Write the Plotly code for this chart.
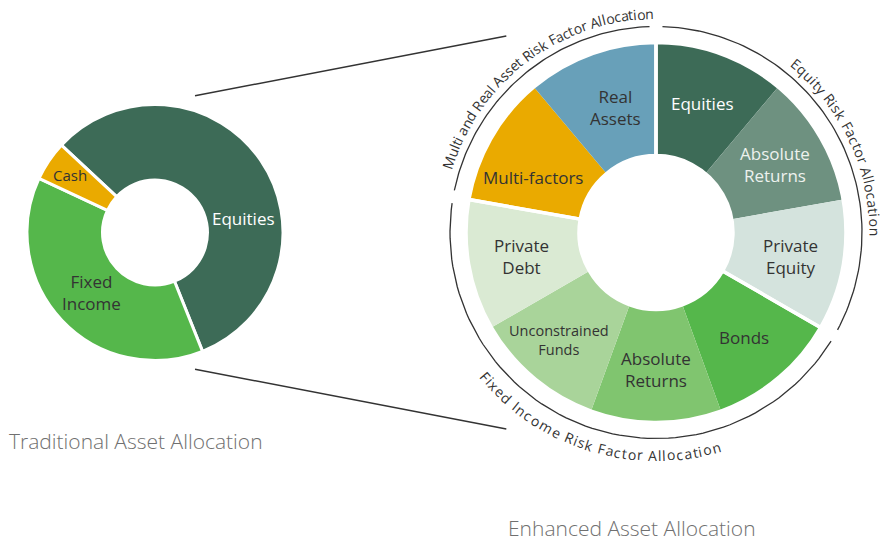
import math
import plotly.graph_objects as go

W, H = 893, 541
FONT = "Open Sans"

# ---------------- data ----------------
LEFT_LABELS = ["Equities", "Fixed Income", "Cash"]
LEFT_VALUES = [57, 38, 5]
LEFT_COLORS = ["#3d6b57", "#55b74b", "#eaaa00"]
LEFT_TEXT = ["Equities", "Fixed<br>Income", "Cash"]

RIGHT_GROUPS = ["Equity Risk Factor Allocation",
                "Fixed Income Risk Factor Allocation",
                "Multi and Real Asset Risk Factor Allocation"]
RIGHT_LABELS = ["Equities", "Absolute Returns", "Private Equity",
                "Bonds", "Absolute Returns", "Unconstrained Funds", "Private Debt",
                "Multi-factors", "Real Assets"]
RIGHT_GROUP_OF = [0, 0, 0, 1, 1, 1, 1, 2, 2]
RIGHT_VALUES = [1, 1, 1, 1, 1, 1, 1, 1, 1]
RIGHT_COLORS = ["#3d6b57", "#6e9180", "#d4e3dd",
                "#55b74b", "#80c56f", "#a9d49a", "#daead3",
                "#eaaa00", "#68a0b9"]
RIGHT_TEXT = ["Equities", "Absolute<br>Returns", "Private<br>Equity",
              "Bonds", "Absolute<br>Returns", "Unconstrained<br>Funds", "Private<br>Debt",
              "Multi-factors", "Real<br>Assets"]

# ---------------- geometry / style ----------------
LC = (155, 232.5); LR = 128; LHOLE = 0.41; LROT = -47
RC = (656, 232.5); RR = 190; RHOLE = 0.405; RROT = 0
ARC_R = 206
ARC_PAD = 1.8  # degrees of gap at each group end

LEFT_TXT_COLOR = ["#ffffff", "#333333", "#333333"]
LEFT_TXT_SIZE = [17, 17, 15]
LEFT_ANGLE_OVERRIDE = {0: 81}
LEFT_RADIUS = [90, 88, 102]

RIGHT_TXT_COLOR = ["#ffffff", "#edf2ee", "#333333", "#333333", "#333333",
                   "#333333", "#333333", "#333333", "#333333"]
RIGHT_TXT_SIZE = [17, 17, 17, 17, 17, 14.5, 17, 17, 17]
RIGHT_LABEL_R = 137
RIGHT_POS_OVERRIDE = {5: (222, 145), 7: (294, 135), 8: (342, 131)}

# curved group titles: (start angle, end angle, centre radius, outward?)
ARC_TEXT_LAYOUT = {
    0: (38.5, 91.0, 219, True),
    1: (231.0, 163.0, 223, False),
    2: (287.0, 359.5, 219, True),
}
ARC_FONT = 14

CHAR_W = {' ': 0.26, 'A': 0.633, 'E': 0.556, 'F': 0.532, 'I': 0.279, 'M': 0.907,
          'R': 0.621, 'a': 0.556, 'c': 0.48, 'd': 0.613, 'e': 0.561, 'i': 0.258,
          'k': 0.525, 'l': 0.258, 'm': 0.93, 'n': 0.613, 'o': 0.602, 'q': 0.613,
          'r': 0.408, 's': 0.479, 't': 0.352, 'u': 0.613, 'x': 0.523, 'y': 0.5}


def polar(c, r, ang):
    a = math.radians(ang)
    return c[0] + r * math.sin(a), c[1] - r * math.cos(a)


def domain(c, r):
    return dict(x=[(c[0] - r) / W, (c[0] + r) / W],
                y=[(H - c[1] - r) / H, (H - c[1] + r) / H])


fig = go.Figure()

# connectors between the two donuts (decoration)
CONN = [(16.3, 142.5, -37.3, 247), (163.7, 142.5, 217.3, 247)]
for la, lr, ra, rr in CONN:
    p0 = polar(LC, lr, la); p1 = polar(RC, rr, ra)
    fig.add_trace(go.Scatter(x=[p0[0], p1[0]], y=[p0[1], p1[1]], mode="lines",
                             line=dict(color="#333333", width=1.4),
                             hoverinfo="skip", showlegend=False))

# group arcs derived from the slice values
total = sum(RIGHT_VALUES)
group_span = {}
cum = 0
for v, g in zip(RIGHT_VALUES, RIGHT_GROUP_OF):
    a0 = RROT + cum / total * 360
    a1 = RROT + (cum + v) / total * 360
    s = group_span.get(g)
    group_span[g] = (a0 if s is None else s[0], a1)
    cum += v
for g, (a0, a1) in group_span.items():
    n = 80
    angs = [a0 + ARC_PAD + (a1 - a0 - 2 * ARC_PAD) * i / n for i in range(n + 1)]
    pts = [polar(RC, ARC_R, a) for a in angs]
    fig.add_trace(go.Scatter(x=[p[0] for p in pts], y=[p[1] for p in pts], mode="lines",
                             line=dict(color="#333333", width=1.3),
                             hoverinfo="skip", showlegend=False))

# left donut
fig.add_trace(go.Pie(labels=LEFT_LABELS, values=LEFT_VALUES, sort=False,
                     direction="clockwise", rotation=LROT, hole=LHOLE,
                     marker=dict(colors=LEFT_COLORS, line=dict(color="white", width=3)),
                     textinfo="none", domain=domain(LC, LR), showlegend=False))

# right donut
fig.add_trace(go.Pie(labels=[f"{RIGHT_GROUPS[g]}: {l}" for l, g in zip(RIGHT_LABELS, RIGHT_GROUP_OF)],
                     values=RIGHT_VALUES, sort=False,
                     direction="clockwise", rotation=RROT, hole=RHOLE,
                     marker=dict(colors=RIGHT_COLORS, line=dict(width=0)),
                     textinfo="none", domain=domain(RC, RR), showlegend=False))
# group separators
gvals = [sum(v for v, g in zip(RIGHT_VALUES, RIGHT_GROUP_OF) if g == k) for k in range(3)]
fig.add_trace(go.Pie(labels=RIGHT_GROUPS, values=gvals, sort=False,
                     direction="clockwise", rotation=RROT, hole=RHOLE,
                     marker=dict(colors=["rgba(0,0,0,0)"] * 3, line=dict(color="white", width=3.5)),
                     textinfo="none", hoverinfo="skip", domain=domain(RC, RR), showlegend=False))

ann = []
# left labels
lt = sum(LEFT_VALUES); cum = 0
for i, v in enumerate(LEFT_VALUES):
    mid = LROT + (cum + v / 2) / lt * 360
    cum += v
    mid = LEFT_ANGLE_OVERRIDE.get(i, mid)
    x, y = polar(LC, LEFT_RADIUS[i], mid)
    ann.append(dict(x=x, y=y, xref="x", yref="y", text=LEFT_TEXT[i], showarrow=False,
                    font=dict(family=FONT, size=LEFT_TXT_SIZE[i], color=LEFT_TXT_COLOR[i])))

# right labels
cum = 0
for i, v in enumerate(RIGHT_VALUES):
    mid = RROT + (cum + v / 2) / total * 360
    cum += v
    ang, rad = RIGHT_POS_OVERRIDE.get(i, (mid, RIGHT_LABEL_R))
    x, y = polar(RC, rad, ang)
    ann.append(dict(x=x, y=y, xref="x", yref="y", text=RIGHT_TEXT[i], showarrow=False,
                    font=dict(family=FONT, size=RIGHT_TXT_SIZE[i], color=RIGHT_TXT_COLOR[i])))

# curved group titles
for g, text in enumerate(RIGHT_GROUPS):
    a0, a1, rc, outward = ARC_TEXT_LAYOUT[g]
    ws = [CHAR_W.get(ch, 0.55) for ch in text]
    tot = sum(ws)
    acc = 0
    for ch, w in zip(text, ws):
        c = acc + w / 2
        acc += w
        if ch == " ":
            continue
        ang = a0 + (a1 - a0) * c / tot
        x, y = polar(RC, rc, ang)
        rot = ang if outward else ang - 180
        rot = (rot + 180) % 360 - 180
        ann.append(dict(x=x, y=y, xref="x", yref="y", text=ch, showarrow=False,
                        textangle=rot, xanchor="center", yanchor="middle",
                        font=dict(family=FONT, size=ARC_FONT, color="#333333")))

# titles
ann.append(dict(x=136, y=441, xref="x", yref="y", text="Traditional Asset Allocation",
                showarrow=False, font=dict(family=FONT, size=21, color="#707070", weight=300)))
ann.append(dict(x=632, y=528, xref="x", yref="y", text="Enhanced Asset Allocation",
                showarrow=False, font=dict(family=FONT, size=21, color="#707070", weight=300)))

fig.update_layout(
    width=W, height=H, autosize=False,
    margin=dict(l=0, r=0, t=0, b=0),
    paper_bgcolor="white", plot_bgcolor="white",
    xaxis=dict(range=[0, W], visible=False, fixedrange=True, domain=[0, 1]),
    yaxis=dict(range=[H, 0], visible=False, fixedrange=True, domain=[0, 1]),
    annotations=ann, showlegend=False,
    font=dict(family=FONT),
)
fig.write_html("out.html", config={"displayModeBar": False},
               post_script="document.body.style.margin='0';document.body.style.overflow='hidden';")
